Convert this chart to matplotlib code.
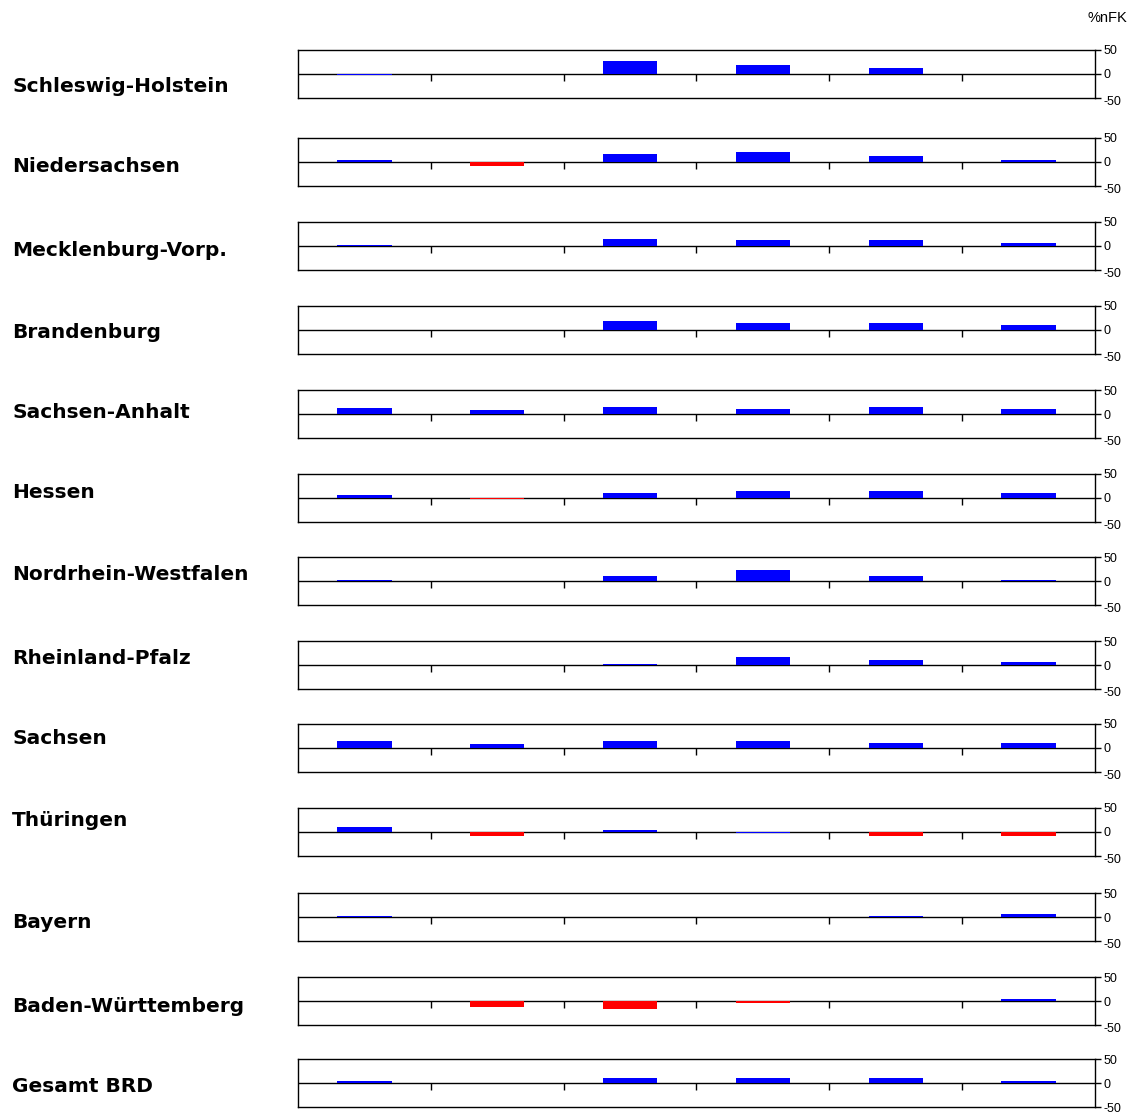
import matplotlib
matplotlib.use('Agg')
import numpy as np
from matplotlib import pyplot as plt
from matplotlib import transforms

plt.rcParams['font.family'] = ['Liberation Sans', 'DejaVu Sans']

# states (rows) and the six bar values per row, in %nFK
states = ['Schleswig-Holstein', 'Niedersachsen', 'Mecklenburg-Vorp.', 'Brandenburg',
          'Sachsen-Anhalt', 'Hessen', 'Nordrhein-Westfalen', 'Rheinland-Pfalz',
          'Sachsen', 'Thüringen', 'Bayern', 'Baden-Württemberg', 'Gesamt BRD']
values = [
    [-3, 0, 28, 19, 12, 0],
    [4, -8, 17, 21, 13, 4],
    [3, 0, 15, 12, 12, 7],
    [0, 0, 18, 15, 15, 10],
    [12, 9, 15, 10, 15, 10],
    [7, -3, 10, 15, 15, 10],
    [3, 0, 10, 23, 10, 3],
    [0, 0, 3, 17, 10, 6],
    [14, 9, 14, 14, 10, 10],
    [10, -8, 4, -3, -8, -8],
    [3, 0, 0, 0, 3, 6],
    [0, -12, -16, -4, 0, 4],
    [4, 0, 11, 11, 11, 4],
]
# bar colour per cell: b = blue, r = red
flags = [
    'bbbbbb', 'brbbbb', 'bbbbbb', 'bbbbbb', 'bbbbbb', 'brbbbb', 'bbbbbb',
    'bbbbbb', 'bbbbbb', 'brbbrr', 'bbbbbb', 'brrrbb', 'bbbbbb',
]
yticks = [-50, 0, 50]
unit = '%nFK'
cmap = {'b': '#0000ff', 'r': '#ff0000'}

# layout in pixels
W, H = 1134, 1115
panel_tops = [50, 138, 222, 306, 390, 474, 557, 641, 724, 808, 893, 977, 1059]
label_y = [87, 167, 250, 333, 413, 493, 575, 658, 738, 820, 923, 1006, 1087]
x0, x1, ph = 298, 1095, 48

fig = plt.figure(figsize=(W / 100, H / 100), dpi=100)
ncat = len(values[0])
cats = np.arange(ncat)

for i, name in enumerate(states):
    ax = fig.add_axes([x0 / W, 1 - (panel_tops[i] + ph) / H, (x1 - x0) / W, ph / H])
    v = np.array(values[i])
    colors = [cmap[c] for c in flags[i]]
    ax.bar(cats, v, width=0.41, color=colors, zorder=3)
    ax.set_xlim(-0.5, ncat - 0.5)
    ax.set_ylim(-50, 50)
    ax.axhline(0, color='black', lw=1, zorder=2)
    # category ticks hang down from the zero line
    ax.plot(cats[:-1] + 0.5, np.zeros(ncat - 1), ls='none', marker=3, ms=5,
            mew=1, color='black', zorder=2)
    ax.set_xticks([])
    ax.yaxis.tick_right()
    ax.set_yticks(yticks)
    ax.set_yticklabels([str(t) for t in yticks])
    ax.tick_params(axis='y', length=4, width=1, pad=2, labelsize=9)
    # -50 sits a little below the frame in the original (not on the last row)
    if i < len(states) - 1:
        lab = ax.get_yticklabels()[0]
        lab.set_transform(lab.get_transform() +
                          transforms.ScaledTranslation(0, -2.5 / 100, fig.dpi_scale_trans))
    for s in ax.spines.values():
        s.set_linewidth(1)
    fig.text(12 / W, 1 - label_y[i] / H, name, fontsize=14.5, fontweight='bold',
             family='DejaVu Sans', va='center', ha='left')

fig.text(1127 / W, 1 - 18 / H, unit, fontsize=10.5, ha='right', va='center')

fig.savefig('out.png', dpi=100)
